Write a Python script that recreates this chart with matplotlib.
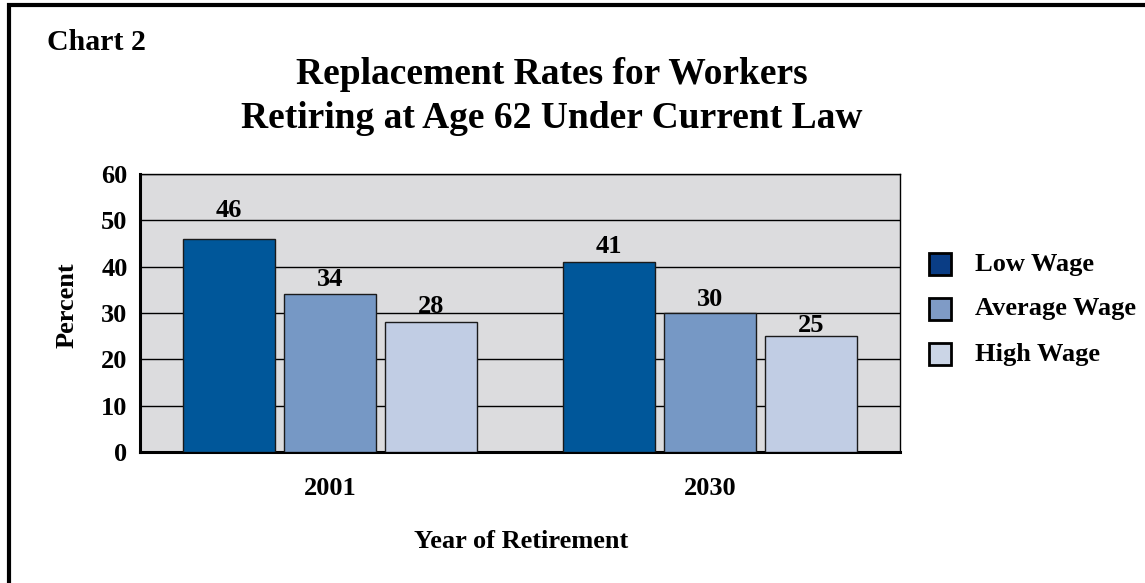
import matplotlib
matplotlib.use("Agg")
import matplotlib.pyplot as plt
import numpy as np
from matplotlib.patches import Rectangle

categories = ["2001", "2030"]
series_names = ["Low Wage", "Average Wage", "High Wage"]
low_wage = [46, 41]
average_wage = [34, 30]
high_wage = [28, 25]
yticks = [0, 10, 20, 30, 40, 50, 60]

colors = ["#00579A", "#7698C5", "#C1CDE4"]
legend_colors = ["#0A3D85", "#7F9BC6", "#CBD5E6"]

plt.rcParams['font.family'] = ['Liberation Serif', 'DejaVu Serif']
plt.rcParams['font.weight'] = 'bold'

W, H = 1145, 583
fig = plt.figure(figsize=(W / 100, H / 100), dpi=100)
fig.patch.set_facecolor("white")

# frame
fig.add_artist(Rectangle((9 / W, -0.05), 1.2, (H - 5) / H + 0.05, transform=fig.transFigure,
                         fill=False, edgecolor="black", linewidth=3, clip_on=False))

ax = fig.add_axes([140 / W, 1 - 452 / H, 760 / W, 278 / H])
ax.set_facecolor("#DCDCDE")

x = np.arange(len(categories))
bw = 0.242
step = 0.266
data = [low_wage, average_wage, high_wage]
# label offset (in data units) above bar tops
label_offsets = [[6.2, 3.4], [3.3, 2.9], [3.4, 2.2]]
for i, (vals, c) in enumerate(zip(data, colors)):
    pos = x + (i - 1) * step
    ax.bar(pos, vals, width=bw, color=c, edgecolor="#1a1a1a", linewidth=1.0, zorder=3,
           label=series_names[i])
    for j, (p, v) in enumerate(zip(pos, vals)):
        ax.text(p, v + label_offsets[i][j], str(v), ha="center", va="center", fontsize=19,
                fontweight="bold", zorder=4)

ax.set_xlim(-0.5, 1.5)
ax.set_ylim(0, 60)
ax.set_yticks(yticks)
ax.set_yticklabels([str(t) for t in yticks], fontsize=19, fontweight="bold")
ax.yaxis.grid(True, color="black", linewidth=1.0, zorder=1)
ax.set_axisbelow(True)
ax.tick_params(axis="y", length=0, pad=9)
ax.set_xticks(x)
ax.set_xticklabels(categories, fontsize=19, fontweight="bold")
ax.tick_params(axis="x", length=0, pad=18)
for s in ["top", "right"]:
    ax.spines[s].set_linewidth(1.0)
for s in ["left", "bottom"]:
    ax.spines[s].set_linewidth(2.2)

fig.text(67 / W, 1 - 305 / H, "Percent", fontsize=19, fontweight="bold", rotation=90,
         ha="center", va="center")
fig.text(521 / W, 1 - 541 / H, "Year of Retirement", fontsize=19, fontweight="bold",
         ha="center", va="center")

fig.text(47 / W, 1 - 42 / H, "Chart 2", fontsize=21.5, fontweight="bold", ha="left", va="center")
fig.text(552 / W, 1 - 75 / H, "Replacement Rates for Workers", fontsize=27, fontweight="bold",
         ha="center", va="center")
fig.text(552 / W, 1 - 118 / H, "Retiring at Age 62 Under Current Law", fontsize=27, fontweight="bold",
         ha="center", va="center")

# legend
leg_y = [264, 309, 354]
for name, c, yy in zip(series_names, legend_colors, leg_y):
    fig.add_artist(Rectangle((929 / W, 1 - (yy + 11) / H), 22 / W, 22 / H, transform=fig.transFigure,
                             facecolor=c, edgecolor="black", linewidth=2))
    fig.text(975 / W, 1 - yy / H, name, fontsize=19, fontweight="bold", ha="left", va="center")

fig.savefig("out.png", dpi=100)
